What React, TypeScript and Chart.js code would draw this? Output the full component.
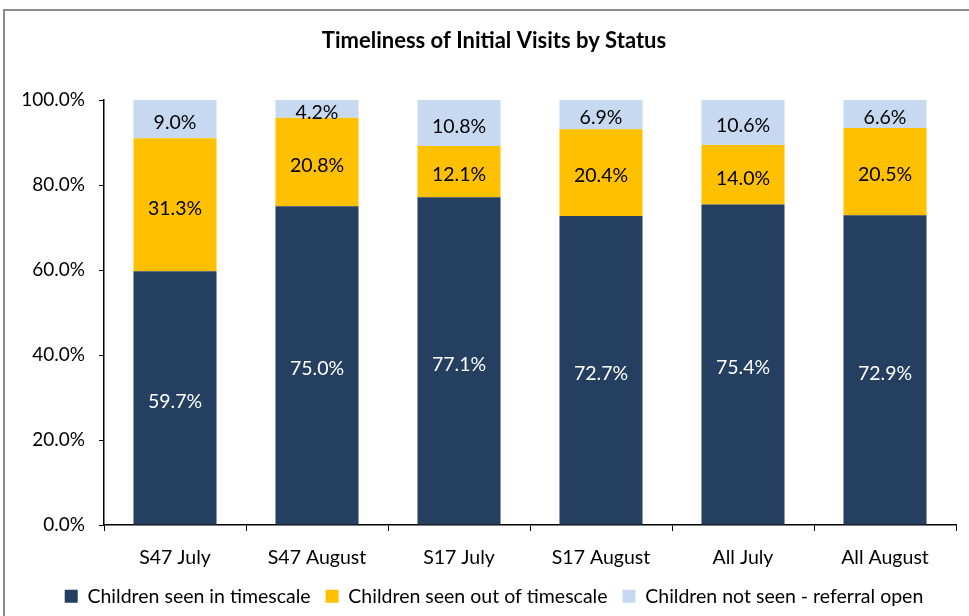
import React, { useEffect, useRef } from "react";
import { Chart, registerables } from "chart.js";

Chart.register(...registerables);

const categories = ["S47 July", "S47 August", "S17 July", "S17 August", "All July", "All August"];
const seenInTimescale = [59.7, 75.0, 77.1, 72.7, 75.4, 72.9];
const seenOutOfTimescale = [31.3, 20.8, 12.1, 20.4, 14.0, 20.5];
const notSeenReferralOpen = [9.0, 4.2, 10.8, 6.9, 10.6, 6.6];
const seriesNames = [
  "Children seen in timescale",
  "Children seen out of timescale",
  "Children not seen - referral open",
];
const seriesColors = ["#243F60", "#FFC000", "#C6D9F1"];
const labelColors = ["#FFFFFF", "#000000", "#000000"];
const yMin = 0;
const yMax = 100;
const yStep = 20;
const chartTitle = "Timeliness of Initial Visits by Status";

const FONT = "Lato, 'Open Sans', sans-serif";

const dataLabelPlugin = {
  id: "segLabels",
  afterDatasetsDraw(chart: any) {
    const ctx = chart.ctx;
    ctx.save();
    ctx.font = `19.5px ${FONT}`;
    ctx.textAlign = "center";
    ctx.textBaseline = "middle";
    chart.data.datasets.forEach((ds: any, i: number) => {
      const meta = chart.getDatasetMeta(i);
      meta.data.forEach((el: any, j: number) => {
        const v = ds.data[j];
        const cy = (el.y + el.base) / 2 + 3.5;
        ctx.fillStyle = labelColors[i];
        ctx.fillText(v.toFixed(1) + "%", el.x, cy);
      });
    });
    ctx.restore();
  },
};

export default function App() {
  const ref = useRef<HTMLCanvasElement | null>(null);
  useEffect(() => {
    if (!ref.current) return;
    const seriesData = [seenInTimescale, seenOutOfTimescale, notSeenReferralOpen];
    const chart = new Chart(ref.current, {
      type: "bar",
      data: {
        labels: categories,
        datasets: seriesData.map((d, i) => ({
          label: seriesNames[i],
          data: d,
          backgroundColor: seriesColors[i],
          borderWidth: 0,
          barPercentage: 0.585,
          categoryPercentage: 1,
        })),
      },
      options: {
        responsive: false,
        animation: false,
        layout: { padding: { left: 0, right: 0, top: 18, bottom: 0 } },
        plugins: {
          title: {
            display: true,
            text: chartTitle,
            color: "#000",
            font: { family: FONT, size: 22, weight: "bold" },
            padding: { top: 10, bottom: 45.6 },
          },
          legend: {
            position: "bottom",
            labels: {
              color: "#000",
              font: { family: FONT, size: 19.5 },
              boxWidth: 13,
              boxHeight: 13,
              padding: 15,
            },
          },
          tooltip: { enabled: false },
        },
        scales: {
          x: {
            stacked: true,
            grid: {
              display: true,
              drawOnChartArea: false,
              drawTicks: true,
              tickLength: 6,
              color: "#000",
              offset: true,
            },
            border: { display: true, color: "#000", width: 1.5 },
            ticks: { color: "#000", font: { family: FONT, size: 19.5 }, padding: 15 },
            afterFit: (s: any) => {
              s.height = 46.5;
            },
          },
          y: {
            stacked: true,
            min: yMin,
            max: yMax,
            grid: {
              display: true,
              drawOnChartArea: false,
              drawTicks: true,
              tickLength: 5,
              color: "#000",
            },
            border: { display: true, color: "#000", width: 1.5 },
            ticks: {
              stepSize: yStep,
              color: "#000",
              font: { family: FONT, size: 19 },
              padding: 14,
              callback: (v: any) => Number(v).toFixed(1) + "%",
            },
            afterFit: (s: any) => {
              s.width = 104;
            },
          },
          yRightSpacer: {
            type: "linear",
            position: "right",
            display: true,
            grid: { display: false, drawTicks: false },
            border: { display: false },
            ticks: { display: false },
            afterFit: (s: any) => {
              s.width = 32;
            },
          },
        },
      },
      plugins: [dataLabelPlugin],
    });
    return () => chart.destroy();
  }, []);

  return (
    <div
      style={{
        position: "fixed",
        left: 0,
        top: 0,
        width: 969,
        height: 616,
        overflow: "hidden",
        background: "#fff",
      }}
    >
      <div
        style={{
          position: "absolute",
          left: 3,
          top: 9,
          width: 1000,
          height: 700,
          borderLeft: "2px solid #8c8c8c",
          borderTop: "2px solid #8c8c8c",
        }}
      />
      <canvas
        ref={ref}
        width={988}
        height={616}
        style={{ position: "absolute", left: 0, top: 0, display: "block" }}
      />
    </div>
  );
}
